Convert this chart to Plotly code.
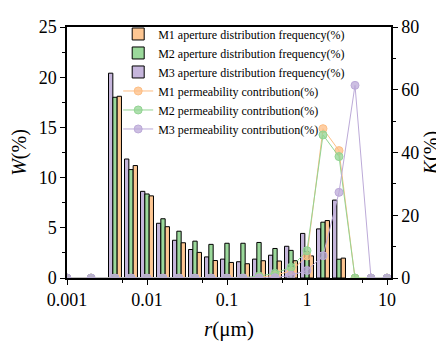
import numpy as np
import plotly.graph_objects as go

# Data
r_bins = [0.00398, 0.00631, 0.01, 0.01585, 0.02512, 0.03981, 0.0631, 0.1,
          0.1585, 0.2512, 0.3981, 0.631, 1.0, 1.585, 2.512]
W_M1 = [18.1, 11.2, 8.18, 5.11, 3.51, 2.55, 1.74, 1.55, 1.42, 1.72, 1.69, 1.72, 2.2, 5.72, 1.98]
W_M2 = [18.0, 10.8, 8.37, 5.9, 4.66, 3.67, 3.35, 3.46, 3.46, 3.54, 2.94, 2.75, 2.6, 5.56, 1.87]
W_M3 = [20.4, 11.85, 8.63, 5.45, 3.76, 2.84, 2.1, 1.88, 1.62, 1.88, 2.27, 3.16, 4.44, 4.89, 7.76]

r_lines = [0.001, 0.002, 0.00398, 0.00631, 0.01, 0.01585, 0.02512, 0.03981, 0.0631, 0.1,
           0.1585, 0.2512, 0.3981, 0.631, 1.0, 1.585, 2.512, 3.981, 6.31, 10.0]
K_M1 = [0, 0, 0, 0, 0, 0, 0, 0, 0, 0, 0, 0.2, 0.9, 2.2, 7.0, 47.6, 40.6, 0, 0, 0]
K_M2 = [0, 0, 0, 0, 0, 0, 0, 0, 0, 0, 0.1, 0.6, 1.5, 3.4, 8.7, 45.6, 38.7, 0, 0, 0]
K_M3 = [0, 0, 0, 0, 0, 0, 0, 0, 0, 0, 0, 0, 0.1, 0.9, 2.4, 7.1, 27.3, 61.4, 0, 0]

x_ticks = [0.001, 0.01, 0.1, 1, 10]
x_ticktext = ["0.001", "0.01", "0.1", "1", "10"]
x_minor = [0.005, 0.05, 0.5, 5]

c_orange = "#FDC692"
c_green = "#9BD99B"
c_purple = "#C6B6DC"
l_orange = "#FDBE84"
l_green = "#93D493"
l_purple = "#BCAAD8"

FONT = "Liberation Serif"

# position on the axis = log10(r)  (logarithmic r axis)
lx_bins = np.log10(r_bins)
lx_lines = np.log10(r_lines)

fig = go.Figure()

bars = [
    ("M3", W_M3, c_purple, 3),
    ("M2", W_M2, c_green, 2),
    ("M1", W_M1, c_orange, 1),
]
for name, vals, col, rank in bars:
    fig.add_trace(go.Bar(
        x=lx_bins, y=vals, name=f"{name} aperture distribution frequency(%)",
        marker=dict(color=col, line=dict(color="black", width=1)),
        legendrank=rank,
    ))

lines = [
    ("M1", K_M1, l_orange, "rgba(253,190,132,0.75)", 4),
    ("M2", K_M2, l_green, "rgba(147,212,147,0.75)", 5),
    ("M3", K_M3, l_purple, "rgba(188,170,216,0.75)", 6),
]
for name, vals, col, fill, rank in lines:
    fig.add_trace(go.Scatter(
        x=lx_lines, y=vals, yaxis="y2", mode="lines+markers",
        name=f"{name} permeability contribution(%)",
        line=dict(color=col, width=1),
        marker=dict(size=8, color=fill, line=dict(color=col, width=1)),
        legendrank=rank,
    ))

axis_common = dict(
    showline=True, linecolor="black", linewidth=1.5,
    ticks="outside", tickcolor="black", tickwidth=1.2,
    tickfont=dict(family=FONT, size=18, color="black"),
    showgrid=False, zeroline=False, automargin=False,
)

# the page body adds an 8px offset, so the figure is sized 8px smaller
fig.update_layout(
    width=436, height=335,
    margin=dict(l=59, r=53, t=11, b=65),
    paper_bgcolor="white", plot_bgcolor="white",
    barmode="group", bargap=0.19, bargroupgap=0,
    font=dict(family=FONT, color="black"),
    showlegend=True,
    legend=dict(
        x=0.158, y=1.03, xanchor="left", yanchor="top",
        bgcolor="rgba(0,0,0,0)", font=dict(family=FONT, size=12, color="black"),
        itemwidth=30, tracegroupgap=0,
    ),
    xaxis=dict(
        range=[-3, 1.05],
        tickvals=list(np.log10(x_ticks)), ticktext=x_ticktext, ticklen=5,
        minor=dict(tickvals=list(np.log10(x_minor)), ticklen=3, ticks="outside", tickcolor="black"),
        mirror=True,
        title=dict(text="<i>r</i>(μm)", font=dict(family=FONT, size=21), standoff=12),
        **axis_common,
    ),
    yaxis=dict(
        range=[0, 25], tickvals=[0, 5, 10, 15, 20, 25], ticklen=5,
        minor=dict(dtick=2.5, ticklen=3, ticks="outside", tickcolor="black"),
        title=dict(text="<i>W</i>(%)", font=dict(family=FONT, size=20), standoff=10),
        **axis_common,
    ),
    yaxis2=dict(
        range=[0, 80], tickvals=[0, 20, 40, 60, 80], ticklen=5,
        overlaying="y", side="right",
        minor=dict(dtick=10, ticklen=3, ticks="outside", tickcolor="black"),
        title=dict(text="<i>K</i>(%)", font=dict(family=FONT, size=20), standoff=6),
        **axis_common,
    ),
)

fig.write_html("out.html")
